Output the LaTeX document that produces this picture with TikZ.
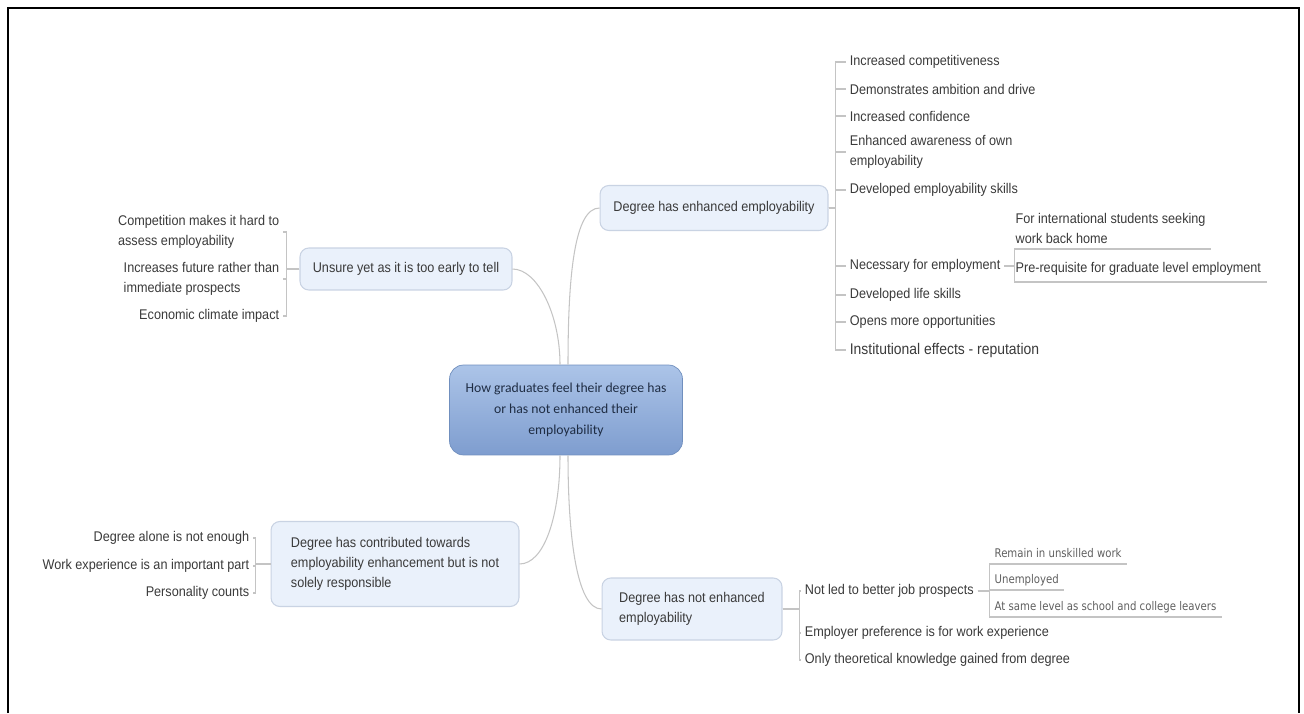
\documentclass[tikz,border=0pt]{standalone}
\usepackage{fontspec}
\setmainfont{Liberation Sans}[FakeStretch=0.9]
\newfontfamily\rootfont{Carlito}
\newfontfamily\subfont{DejaVu Sans}[FakeStretch=0.85]
\usetikzlibrary{positioning}
\definecolor{TextDark}{RGB}{58,58,58}
\definecolor{SubText}{RGB}{95,95,95}
\definecolor{LinkGray}{RGB}{196,196,196}
\definecolor{BoxFill}{RGB}{234,241,251}
\definecolor{BoxLine}{RGB}{201,211,227}
\definecolor{RootTop}{RGB}{172,196,232}
\definecolor{RootBottom}{RGB}{126,157,207}
\definecolor{RootLine}{RGB}{112,143,190}
\definecolor{RootText}{RGB}{31,45,68}

\begin{document}
\begin{tikzpicture}[x=0.02cm,y=-0.02cm,
    topic/.style={draw=BoxLine,fill=BoxFill,rounded corners=5pt,line width=0.6pt,
                  font=\fontsize{8}{11.3}\selectfont,text=TextDark,align=left},
    leaf/.style={font=\fontsize{8}{11.3}\selectfont,text=TextDark,inner sep=2pt,align=left},
    uline/.style={leaf,anchor=south west,inner xsep=3pt,inner ysep=3pt,text depth=2pt},
    subleaf/.style={font=\subfont\fontsize{6.8}{8}\selectfont,text=SubText,anchor=south west,
                    inner xsep=3pt,inner ysep=2pt,text depth=1.5pt},
    link/.style={draw=LinkGray,line width=0.6pt}
  ]
    \useasboundingbox (0,0) rectangle (1304,713);
    \draw[line width=1.6pt] (8,713) -- (8,8) -- (1299,8) -- (1299,713);

    % central topic
    \node[draw=RootLine,top color=RootTop,bottom color=RootBottom,rounded corners=8pt,
          minimum width=4.66cm,minimum height=1.8cm,align=center,text=RootText,
          font=\rootfont\fontsize{7.8}{12}\selectfont] (root) at (566,410)
      {How graduates feel their degree has\\or has not enhanced their\\employability};

    % main branches
    \node[topic,minimum width=4.56cm,minimum height=0.9cm] (enh) at (714,208)
      {Degree has enhanced employability};
    \node[topic,minimum width=4.24cm,minimum height=0.84cm] (unsure) at (406,269)
      {Unsure yet as it is too early to tell};
    \node[topic,minimum width=4.96cm,minimum height=1.7cm] (contrib) at (395,564)
      {Degree has contributed towards\\employability enhancement but is not\\solely responsible};
    \node[topic,minimum width=3.6cm,minimum height=1.24cm] (notenh) at (692,609)
      {Degree has not enhanced\\employability};

    \draw[link] (unsure.east) .. controls +(25,0) and +(0,-50) .. ([xshift=-0.12cm]root.north);
    \draw[link] (enh.west) .. controls +(-25,0) and +(0,-90) .. ([xshift=0.04cm]root.north);
    \draw[link] (contrib.east) .. controls +(25,0) and +(0,60) .. ([xshift=-0.12cm]root.south);
    \draw[link] (notenh.west) .. controls +(-25,0) and +(0,80) .. ([xshift=0.04cm]root.south);

    % enhanced employability
    \node[leaf,anchor=west] (e1) at (846,62)  {Increased competitiveness};
    \node[leaf,anchor=west] (e2) at (846,89)  {Demonstrates ambition and drive};
    \node[leaf,anchor=west] (e3) at (846,116) {Increased confidence};
    \node[leaf,anchor=west] (e4) at (846,152) {Enhanced awareness of own\\employability};
    \node[leaf,anchor=west] (e5) at (846,190) {Developed employability skills};
    \node[leaf,anchor=west] (e6) at (846,266) {Necessary for employment};
    \node[leaf,anchor=west] (e7) at (846,295) {Developed life skills};
    \node[leaf,anchor=west] (e8) at (846,322) {Opens more opportunities};
    \node[leaf,anchor=west,font=\fontsize{8.8}{11}\selectfont] (e9) at (846,350)
      {Institutional effects - reputation};
    \foreach \i in {1,...,9}
      \draw[link] (enh.east) -- ++(7,0) |- (e\i.west);

    \node[leaf,anchor=south west,inner xsep=3pt,inner ysep=3pt] (n1) at (1010,249)
      {For international students seeking\\work back home};
    \node[uline] (n2) at (1010,282) {Pre-requisite for graduate level employment};
    \draw[link] (e6.east) -- ++(10,0) |- (n1.south east);
    \draw[link] (e6.east) -- ++(10,0) |- (n2.south east);

    % unsure
    \node[leaf,anchor=east] (u1) at (283,232) {Competition makes it hard to\\assess employability};
    \node[leaf,anchor=east] (u2) at (283,279) {Increases future rather than\\immediate prospects};
    \node[leaf,anchor=east] (u3) at (283,316) {Economic climate impact};
    \foreach \i in {1,2,3}
      \draw[link] (unsure.west) -- ++(-13,0) |- (u\i.east);

    % contributed
    \node[leaf,anchor=east] (c1) at (253,538) {Degree alone is not enough};
    \node[leaf,anchor=east] (c2) at (253,566) {Work experience is an important part};
    \node[leaf,anchor=east] (c3) at (253,593) {Personality counts};
    \foreach \i in {1,2,3}
      \draw[link] (contrib.west) -- ++(-15,0) |- (c\i.east);

    % not enhanced
    \node[leaf,anchor=west] (nl) at (801,591) {Not led to better job prospects};
    \node[leaf,anchor=west] (ep) at (801,633) {Employer preference is for work experience};
    \node[leaf,anchor=west] (ot) at (801,660) {Only theoretical knowledge gained from degree};
    \foreach \n in {nl,ep,ot}
      \draw[link] (notenh.east) -- ++(17,0) |- (\n.west);

    \node[subleaf] (r1) at (989,564) {Remain in unskilled work};
    \node[subleaf] (r2) at (989,590) {Unemployed};
    \node[subleaf] (r3) at (989,617) {At same level as school and college leavers};
    \foreach \i in {1,2,3}
      \draw[link] (nl.east) -- ++(12,0) |- (r\i.south east);
  \end{tikzpicture}
\end{document}
